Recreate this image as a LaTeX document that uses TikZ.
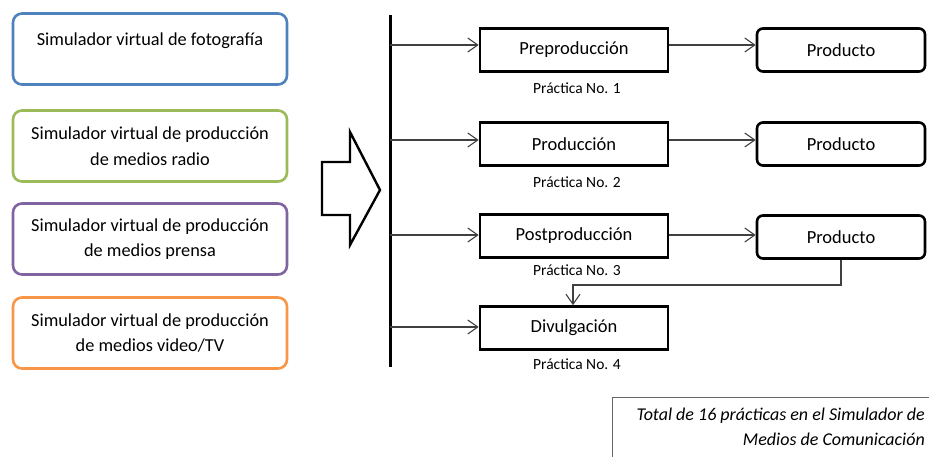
\documentclass[tikz,border=0pt]{standalone}
\usepackage{fontspec}
\setmainfont{Carlito}
\usetikzlibrary{arrows.meta}
\definecolor{oblue}{HTML}{4F81BD}
\definecolor{ogreen}{HTML}{9BBB59}
\definecolor{opurple}{HTML}{8064A2}
\definecolor{oorange}{HTML}{F79646}
\begin{document}
\begin{tikzpicture}[x=1pt,y=-1pt,
  simbox/.style={draw, line width=2.6pt, rounded corners=9pt, minimum width=274pt, minimum height=71pt, align=center, font=\fontsize{18.3}{25.5}\selectfont, inner sep=0pt},
  simtext/.style={font=\fontsize{18.3}{25.5}\selectfont, inner sep=0pt},
  stagebox/.style={draw, line width=2.6pt, minimum width=188pt, minimum height=43pt, font=\fontsize{18.5}{20}\selectfont, inner sep=0pt},
  prodbox/.style={draw, line width=2.6pt, rounded corners=6pt, minimum width=168pt, minimum height=43pt, font=\fontsize{18.5}{20}\selectfont, inner sep=0pt},
  practlabel/.style={font=\fontsize{15.5}{17}\selectfont, inner sep=0pt},
  conn/.style={draw=black!75, line width=1.1pt, -{Straight Barb[length=10pt,width=14pt]}}
]
\useasboundingbox (0,0) rectangle (929,457);

% left simulator boxes
\node[simbox, draw=oblue] (s1) at (150,49) {};
\node[simtext] (s1t) at (150,41) {Simulador virtual de fotografía};
\node[simbox, draw=ogreen] (s2) at (150,146) {Simulador virtual de producción\\de medios radio};
\node[simbox, draw=opurple] (s3) at (150,239) {Simulador virtual de producción\\de medios prensa};
\node[simbox, draw=oorange] (s4) at (150,333) {Simulador virtual de producción\\de medios video/TV};

% big block arrow
\draw[line width=2.4pt, line join=miter] (322,162) -- (350,162) -- (350,132) -- (380,190) -- (350,245) -- (350,215) -- (322,215) -- cycle;

% vertical bar
\coordinate (bt) at (390,15);
\coordinate (bb) at (390,367);
\draw[line width=3pt] (bt) -- (bb);

% stage boxes
\node[stagebox] (pre) at (574,50) {Preproducción};
\node[stagebox] (pro) at (574,144) {Producción};
\node[stagebox] (post) at (574,236) {Postproducción};
\node[stagebox] (div) at (574,328) {Divulgación};

\node[practlabel] (p1) at (577,88) {Práctica No. 1};
\node[practlabel] (p2) at (577,182) {Práctica No. 2};
\node[practlabel] (p3) at (577,270) {Práctica No. 3};
\node[practlabel] (p4) at (577,364) {Práctica No. 4};

% product boxes
\node[prodbox] (r1) at (841,50) {Producto};
\node[prodbox] (r2) at (841,144) {Producto};
\node[prodbox] (r3) at (841,237) {Producto};

% connectors from bar
\coordinate (b1) at (390,45);
\coordinate (b2) at (390,140);
\coordinate (b3) at (390,235);
\coordinate (b4) at (390,327);
\draw[conn] (b1) -- (b1 -| pre.west);
\draw[conn] (b2) -- (b2 -| pro.west);
\draw[conn] (b3) -- (b3 -| post.west);
\draw[conn] (b4) -- (b4 -| div.west);

% stage to product
\draw[conn] (pre.east |- 0,45) -- (r1.west |- 0,45);
\draw[conn] (pro.east |- 0,140) -- (r2.west |- 0,140);
\draw[conn] (post.east |- 0,235) -- (r3.west |- 0,235);

% feedback
\coordinate (fb) at (573,285);
\draw[conn] (r3.south) |- (fb) -- (fb |- div.north);

% total box
\coordinate (tl) at (612,397);
\draw[black!60, line width=0.9pt] (tl |- 0,457) -- (tl) -- (929,397);
\node[font=\fontsize{18}{25}\selectfont\itshape, align=right, anchor=north east, inner sep=0pt] (tot) at (925,408) {Total de 16 prácticas en el Simulador de\\Medios de Comunicación};
\end{tikzpicture}
\end{document}
